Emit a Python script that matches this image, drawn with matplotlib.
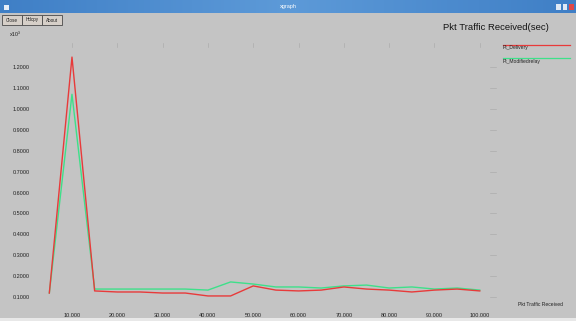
import numpy as np
import matplotlib
matplotlib.use("Agg")
import matplotlib.pyplot as plt
from matplotlib.patches import Rectangle

# Time (sec) and packet counts (x10^3) for the two traces
time_sec = [5, 10, 15, 20, 25, 30, 35, 40, 45, 50,
            55, 60, 65, 70, 75, 80, 85, 90, 95, 100]
pkt_delivery = [0.119, 1.248, 0.129, 0.124, 0.124, 0.119, 0.119, 0.105, 0.105, 0.153,
                0.133, 0.129, 0.133, 0.148, 0.138, 0.133, 0.124, 0.133, 0.138, 0.129]
pkt_relay = [0.119, 1.070, 0.138, 0.138, 0.138, 0.138, 0.138, 0.133, 0.172, 0.162,
             0.148, 0.148, 0.143, 0.153, 0.157, 0.143, 0.148, 0.138, 0.143, 0.133]
series_names = ["Pt_Delivery", "Pt_Modifiedrelay"]

y_ticks = [0.1, 0.2, 0.3, 0.4, 0.5, 0.6, 0.7, 0.8, 0.9, 1.0, 1.1, 1.2]
x_ticks = [10, 20, 30, 40, 50, 60, 70, 80, 90, 100]

W, H = 576, 321
BG = "#c4c4c4"

fig = plt.figure(figsize=(W / 100, H / 100), dpi=100, facecolor=BG)


def fx(px):
    return px / W


def fy(py):
    return 1 - py / H


# window title bar
tb = fig.add_axes([0, fy(13), 1, 13 / H])
grad = np.linspace(0, 1, 256).reshape(1, -1)
tb.imshow(np.vstack([grad, grad]), aspect="auto", cmap=matplotlib.colors.LinearSegmentedColormap.from_list(
    "bar", ["#3f7fc6", "#5d9ad8", "#3f7fc6"]))
tb.set_axis_off()
fig.text(0.5, fy(6.5), "xgraph", ha="center", va="center", fontsize=4, color="white",
         family="Liberation Sans")
for i, c in enumerate(["#dfe9f5", "#dfe9f5", "#e04848"]):
    fig.patches.append(Rectangle((fx(556 + i * 6.5), fy(10)), 4.5 / W, 6 / H, transform=fig.transFigure,
                                 facecolor=c, edgecolor="none"))
fig.patches.append(Rectangle((fx(4), fy(10)), 5 / W, 5 / H, transform=fig.transFigure,
                             facecolor="#e6eef8", edgecolor="none"))

# command buttons
for i, lab in enumerate(["Close", "Hdcpy", "About"]):
    x0 = 2 + i * 20
    fig.patches.append(Rectangle((fx(x0), fy(25)), 20 / W, 10 / H, transform=fig.transFigure,
                                 facecolor="#d6cfc8", edgecolor="#4a4a4a", linewidth=0.6))
    fig.text(fx(x0 + 10), fy(20), lab, ha="center", va="center", fontsize=3.3,
             color="#222222", family="Liberation Sans")

# plot area
ax = fig.add_axes([fx(38), fy(305), fx(497) - fx(38), (305 - 40) / H])
ax.set_facecolor(BG)
for s in ax.spines.values():
    s.set_visible(False)

ax.plot(time_sec, pkt_relay, color="#3ee08a", linewidth=1.0, zorder=3)
ax.plot(time_sec, pkt_delivery, color="#e83a3a", linewidth=1.0, zorder=4)

ax.set_xlim(2.5, 103.8)
ax.set_ylim(0.0617, 1.3297)
ax.set_yticks(y_ticks)
ax.set_yticklabels([f"{v:.4f}" for v in y_ticks])
ax.set_xticks(x_ticks)
ax.set_xticklabels([f"{v:.3f}" for v in x_ticks])
ax.tick_params(axis="both", length=0, labelsize=4, colors="#222222")
ax.tick_params(axis="y", pad=6)
ax.tick_params(axis="x", pad=6)
for lab in ax.get_xticklabels() + ax.get_yticklabels():
    lab.set_family("Liberation Sans")

# faint grid marks along the top and right edges
for xv in x_ticks:
    ax.plot([xv, xv], [1.295, 1.315], color="#adadad", linewidth=0.5, zorder=1)
for yv in y_ticks:
    ax.plot([102.3, 103.5], [yv, yv], color="#adadad", linewidth=0.5, zorder=1)

# axis captions and chart title
fig.text(fx(10), fy(35), "x10\u00b3", ha="left", va="center", fontsize=4, color="#222222",
         family="Liberation Sans")
fig.text(fx(443), fy(28), "Pkt Traffic Received(sec)", ha="left", va="center", fontsize=6.8,
         color="#141414", family="Liberation Sans")
fig.text(fx(518), fy(305), "Pkt Traffic Received", ha="left", va="center", fontsize=3.6,
         color="#222222", family="Liberation Sans")

# legend: label text with its line drawn across
for i, (name, col) in enumerate(zip(series_names, ["#e83a3a", "#3ee08a"])):
    yl = 45 + i * 13
    fig.lines.append(plt.Line2D([fx(503), fx(570)], [fy(yl), fy(yl)], transform=fig.transFigure,
                                color=col, linewidth=0.9))
    fig.text(fx(503), fy(yl + 3), name, ha="left", va="center", fontsize=3.6, color="#222222",
             family="Liberation Sans")

# bottom window edge
fig.patches.append(Rectangle((0, 0), 1, 3 / H, transform=fig.transFigure,
                             facecolor="#e8e8e8", edgecolor="none"))

fig.savefig("out.png", dpi=100, facecolor=BG)
